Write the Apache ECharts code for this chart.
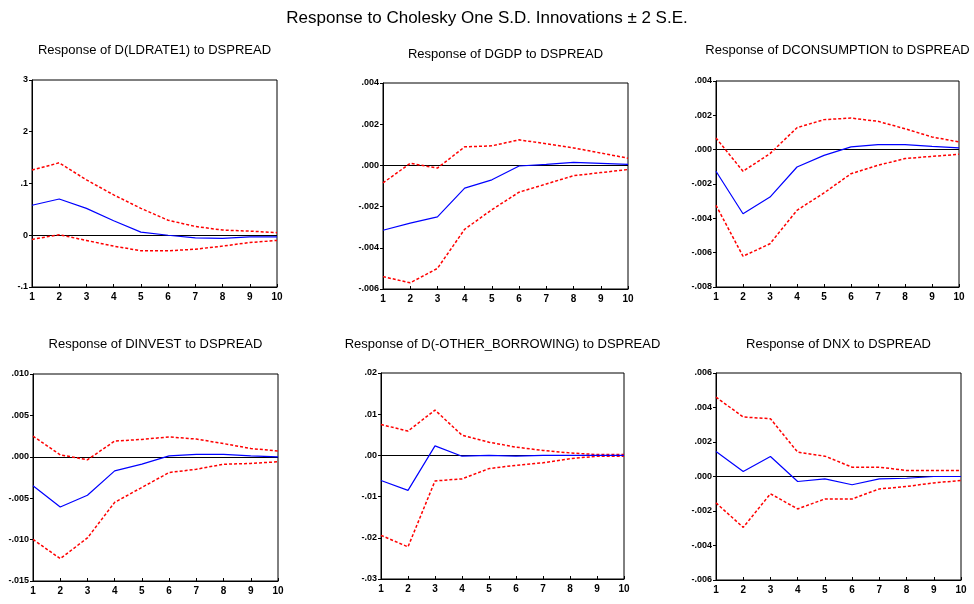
<!DOCTYPE html>
<html><head><meta charset="utf-8">
<script src="https://cdn.jsdelivr.net/npm/echarts@6/dist/echarts.min.js"></script>
<style>html,body{margin:0;padding:0;background:#fff}#c{width:974px;height:604px}</style>
</head><body><div id="c"></div>
<script>
// ---------- data ----------
const periods = [1, 2, 3, 4, 5, 6, 7, 8, 9, 10];
const mainTitle = "Response to Cholesky One S.D. Innovations \u00b1 2 S.E.";
const panelTitles = [
  "Response of D(LDRATE1) to DSPREAD",
  "Response of DGDP to DSPREAD",
  "Response of DCONSUMPTION to DSPREAD",
  "Response of DINVEST to DSPREAD",
  "Response of D(-OTHER_BORROWING) to DSPREAD",
  "Response of DNX to DSPREAD"
];

// Panel 1: D(LDRATE1)
const ldrateResp  = [0.058, 0.070, 0.052, 0.028, 0.006, 0.000, -0.005, -0.006, -0.003, -0.003];
const ldrateUpper = [0.126, 0.140, 0.107, 0.078, 0.052, 0.029, 0.017, 0.010, 0.008, 0.005];
const ldrateLower = [-0.008, 0.001, -0.010, -0.021, -0.030, -0.030, -0.027, -0.021, -0.014, -0.010];
const ldrateTicks = ["-.1", "0", ".1", "2", "3"];
const ldrateScale = [-0.1, 0.3, 0.1];

// Panel 2: DGDP
const gdpResp  = [-0.00315, -0.0028, -0.0025, -0.0011, -0.0007, -0.00003, 0.00005, 0.00015, 0.0001, 0.00005];
const gdpUpper = [-0.00085, 0.0001, -0.00013, 0.0009, 0.00095, 0.00124, 0.00105, 0.00085, 0.0006, 0.00035];
const gdpLower = [-0.0054, -0.0057, -0.0050, -0.0031, -0.00215, -0.0013, -0.0009, -0.0005, -0.00035, -0.0002];
const gdpTicks = ["-.006", "-.004", "-.002", ".000", ".002", ".004"];
const gdpScale = [-0.006, 0.004, 0.002];

// Panel 3: DCONSUMPTION
const consResp  = [-0.00126, -0.00373, -0.00276, -0.00101, -0.00033, 0.00016, 0.00029, 0.00029, 0.00019, 0.0001];
const consUpper = [0.00068, -0.00126, -0.00023, 0.00128, 0.00175, 0.00184, 0.00165, 0.00122, 0.00074, 0.00045];
const consLower = [-0.00324, -0.00621, -0.00548, -0.00353, -0.00252, -0.0014, -0.00091, -0.00052, -0.00039, -0.00027];
const consTicks = ["-.008", "-.006", "-.004", "-.002", ".000", ".002", ".004"];
const consScale = [-0.008, 0.004, 0.002];

// Panel 4: DINVEST
const invResp  = [-0.0035, -0.00606, -0.00464, -0.0017, -0.00089, 0.00012, 0.0003, 0.0003, 0.0001, 0.0];
const invUpper = [0.0025, 0.00024, -0.00036, 0.0019, 0.0021, 0.0024, 0.00214, 0.0016, 0.001, 0.0007];
const invLower = [-0.00998, -0.0123, -0.0098, -0.0055, -0.0037, -0.0019, -0.0015, -0.0009, -0.0008, -0.0006];
const invTicks = ["-.015", "-.010", "-.005", ".000", ".005", ".010"];
const invScale = [-0.015, 0.010, 0.005];

// Panel 5: D(-OTHER_BORROWING)
const borResp  = [-0.0061, -0.0085, 0.0023, -0.0002, 0.0, -0.0002, 0.0, 0.0, 0.0, 0.0];
const borUpper = [0.0075, 0.0059, 0.0110, 0.0049, 0.0032, 0.0020, 0.0012, 0.0006, 0.0002, 0.0002];
const borLower = [-0.0194, -0.0222, -0.0062, -0.0057, -0.0032, -0.0024, -0.0018, -0.0008, -0.0002, -0.0002];
const borTicks = ["-.03", "-.02", "-.01", ".00", ".01", ".02"];
const borScale = [-0.03, 0.02, 0.01];

// Panel 6: DNX
const nxResp  = [0.00145, 0.00029, 0.00116, -0.00029, -0.00014, -0.00048, -0.00014, -0.0001, 0.0, 0.0];
const nxUpper = [0.0046, 0.00345, 0.00335, 0.00141, 0.00118, 0.00054, 0.00054, 0.00035, 0.00035, 0.00035];
const nxLower = [-0.00153, -0.00295, -0.0010, -0.00188, -0.0013, -0.0013, -0.00072, -0.00058, -0.00037, -0.00023];
const nxTicks = ["-.006", "-.004", "-.002", ".000", ".002", ".004", ".006"];
const nxScale = [-0.006, 0.006, 0.002];

// ---------- layout ----------
const layout = [
  {left: 32,  top: 80,  width: 245, height: 207, titleTop: 44},
  {left: 383, top: 83,  width: 245, height: 206, titleTop: 48},
  {left: 716, top: 81,  width: 243, height: 206, titleTop: 44},
  {left: 33,  top: 374, width: 245, height: 207, titleTop: 338},
  {left: 381, top: 373, width: 243, height: 206, titleTop: 338},
  {left: 716, top: 373, width: 245, height: 207, titleTop: 338}
];

const panels = [
  [ldrateResp, ldrateUpper, ldrateLower, ldrateTicks, ldrateScale],
  [gdpResp, gdpUpper, gdpLower, gdpTicks, gdpScale],
  [consResp, consUpper, consLower, consTicks, consScale],
  [invResp, invUpper, invLower, invTicks, invScale],
  [borResp, borUpper, borLower, borTicks, borScale],
  [nxResp, nxUpper, nxLower, nxTicks, nxScale]
];

const FONT = "'Liberation Sans', Arial, sans-serif";
const grids = [], xAxes = [], yAxes = [], series = [], graphics = [];

graphics.push({
  type: 'text', left: 'center', top: 10,
  style: {text: mainTitle, font: '17px ' + FONT, fill: '#000'}
});

panels.forEach((p, i) => {
  const [resp, up, lo, ticks, sc] = p;
  const L = layout[i];
  grids.push({left: L.left, top: L.top, width: L.width, height: L.height,
    show: true, borderColor: '#000', borderWidth: 1, backgroundColor: 'transparent'});
  xAxes.push({type: 'value', gridIndex: i, min: 1, max: 10, interval: 1,
    axisLine: {onZero: false, lineStyle: {color: '#000', width: 1}},
    axisTick: {inside: true, length: 3, lineStyle: {color: '#000'}},
    axisLabel: {color: '#000', fontSize: 10, fontFamily: FONT, fontWeight: 'bold', margin: 5},
    splitLine: {show: false}});
  const mn = sc[0], mx = sc[1], st = sc[2];
  yAxes.push({type: 'value', gridIndex: i, min: mn, max: mx, interval: st,
    axisLine: {onZero: false, lineStyle: {color: '#000', width: 1}},
    axisTick: {inside: false, length: 3, lineStyle: {color: '#000'}},
    axisLabel: {color: '#000', fontSize: 9, fontFamily: FONT, fontWeight: 'bold', margin: 4,
      formatter: v => ticks[Math.round((v - mn) / st)]},
    splitLine: {show: false}});
  const toPts = arr => periods.map((x, k) => [x, arr[k]]);
  series.push({type: 'line', xAxisIndex: i, yAxisIndex: i, data: toPts(up), symbol: 'none',
    lineStyle: {color: '#ff0000', width: 1.5, type: [3, 2]}, z: 3});
  series.push({type: 'line', xAxisIndex: i, yAxisIndex: i, data: toPts(lo), symbol: 'none',
    lineStyle: {color: '#ff0000', width: 1.5, type: [3, 2]}, z: 3});
  series.push({type: 'line', xAxisIndex: i, yAxisIndex: i, data: toPts(resp), symbol: 'none',
    lineStyle: {color: '#0000ff', width: 1.2}, z: 4,
    markLine: {silent: true, symbol: 'none', label: {show: false},
      lineStyle: {color: '#000', width: 1, type: 'solid'}, data: [{yAxis: 0}], z: 2}});
  graphics.push({type: 'text', x: L.left + L.width / 2, y: L.titleTop,
    style: {text: panelTitles[i], font: '13px ' + FONT, fill: '#000', textAlign: 'center'}});
});

const chart = echarts.init(document.getElementById('c'), null, {renderer: 'canvas'});
chart.setOption({
  backgroundColor: '#fff', animation: false,
  grid: grids, xAxis: xAxes, yAxis: yAxes, series: series, graphic: graphics
});
</script></body></html>
